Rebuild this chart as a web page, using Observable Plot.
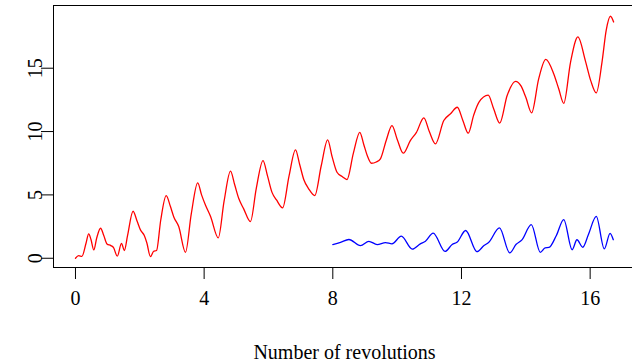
<!DOCTYPE html>
<html>
<head>
<meta charset="utf-8">
<script src="https://cdn.jsdelivr.net/npm/d3@7"></script>
<script src="https://cdn.jsdelivr.net/npm/@observablehq/plot@0.6"></script>
<style>
html, body { margin: 0; padding: 0; background: #fff; overflow: hidden; }
#chart { width: 632px; height: 364px; overflow: hidden; }
#chart svg { display: block; max-width: none !important; width: 636px !important; height: 364px !important; }
</style>
</head>
<body>
<div id="chart"></div>
<script>
const redRev = [0, 0.1, 0.2, 0.33, 0.41, 0.48, 0.57, 0.66, 0.78, 0.88, 0.98, 1.1, 1.18, 1.30, 1.43, 1.52, 1.62, 1.79, 1.92, 2.02, 2.14, 2.22, 2.33, 2.43, 2.52, 2.65, 2.82, 2.95, 3.06, 3.21, 3.42, 3.6, 3.80, 3.92, 4.04, 4.20, 4.44, 4.62, 4.82, 4.95, 5.08, 5.23, 5.44, 5.62, 5.83, 5.97, 6.11, 6.25, 6.44, 6.64, 6.84, 6.97, 7.10, 7.25, 7.44, 7.64, 7.84, 7.98, 8.13, 8.29, 8.44, 8.64, 8.84, 8.96, 9.07, 9.2, 9.35, 9.48, 9.66, 9.84, 10.0, 10.19, 10.41, 10.60, 10.83, 11.0, 11.19, 11.45, 11.66, 11.87, 12.04, 12.21, 12.38, 12.54, 12.83, 13.0, 13.19, 13.42, 13.68, 13.85, 14.0, 14.18, 14.40, 14.62, 14.87, 15.02, 15.18, 15.39, 15.62, 15.85, 16.02, 16.19, 16.37, 16.50, 16.63, 16.73];
const redVal = [0.0, 0.2, 0.15, 1.2, 1.92, 1.5, 0.66, 1.6, 2.37, 1.8, 1.13, 1.0, 0.85, 0.16, 1.18, 0.61, 1.8, 3.71, 2.9, 2.24, 1.79, 1.2, 0.13, 0.55, 0.61, 3.0, 4.95, 4.1, 3.24, 2.5, 0.47, 3.5, 5.95, 5.0, 4.2, 3.3, 1.61, 4.5, 6.87, 5.8, 4.69, 3.9, 2.9, 5.5, 7.71, 6.5, 5.2, 4.6, 3.98, 6.5, 8.56, 7.4, 6.19, 5.48, 4.95, 7.3, 9.35, 8.0, 6.79, 6.45, 6.21, 8.3, 9.94, 9.0, 8.11, 7.5, 7.6, 7.85, 9.3, 10.47, 9.4, 8.29, 9.29, 9.94, 11.08, 10.0, 9.03, 10.87, 11.4, 11.92, 10.9, 9.87, 11.3, 12.3, 12.87, 11.8, 10.67, 12.84, 13.96, 13.6, 12.7, 11.48, 14.16, 15.7, 14.55, 13.4, 12.23, 15.47, 17.47, 15.6, 14.0, 13.05, 15.5, 18.0, 19.1, 18.65];

const blueRev = [8.0, 8.24, 8.50, 8.86, 9.12, 9.38, 9.64, 9.84, 10.13, 10.47, 10.72, 10.88, 11.12, 11.49, 11.71, 11.87, 12.13, 12.48, 12.7, 12.85, 13.18, 13.5, 13.7, 13.88, 14.17, 14.45, 14.6, 14.72, 14.95, 15.18, 15.44, 15.59, 15.77, 15.95, 16.19, 16.44, 16.62, 16.72];
const blueVal = [1.08, 1.26, 1.48, 1.0, 1.34, 1.08, 1.24, 1.14, 1.74, 0.72, 1.14, 1.34, 1.98, 0.54, 1.08, 1.28, 2.19, 0.52, 1.0, 1.26, 2.40, 0.42, 1.1, 1.45, 2.66, 0.47, 0.82, 0.85, 1.8, 3.05, 0.67, 1.46, 0.87, 1.9, 3.3, 0.74, 1.97, 1.46];

const xTicks = [0, 4, 8, 12, 16];
const yTicks = [0, 5, 10, 15];
const xLabel = "Number of revolutions";

const red = redRev.map((r, i) => ({rev: r, val: redVal[i]}));
const blue = blueRev.map((r, i) => ({rev: r, val: blueVal[i]}));

const font = "'Liberation Serif', 'Times New Roman', serif";

const chart = Plot.plot({
  width: 636,
  height: 364,
  marginLeft: 53,
  marginRight: 1,
  marginTop: 5,
  marginBottom: 97,
  style: {fontFamily: font, fontSize: "20px", background: "#fff", color: "#000", maxWidth: "none"},
  x: {domain: [-0.683, 17.41], label: null},
  y: {domain: [-0.73, 19.95], label: null},
  marks: [
    Plot.frame({stroke: "#000", strokeWidth: 1}),
    Plot.axisX(xTicks, {tickSize: 12, tickPadding: 11, fontSize: 20, stroke: "#000", strokeWidth: 1, label: null}),
    Plot.axisY(yTicks, {tickSize: 12, tickFormat: () => "", stroke: "#000", strokeWidth: 1, label: null}),
    Plot.text(yTicks, {y: d => d, text: d => String(d), frameAnchor: "left", dx: -18, rotate: -90, textAnchor: "middle", lineAnchor: "middle", fontSize: 20, fill: "#000"}),
    Plot.text([xLabel], {text: d => d, frameAnchor: "bottom", dy: 85, lineAnchor: "middle", fontSize: 20, fill: "#000"}),
    Plot.line(red, {x: "rev", y: "val", stroke: "#ff0000", strokeWidth: 1.3, curve: "monotone-x"}),
    Plot.line(blue, {x: "rev", y: "val", stroke: "#0000ff", strokeWidth: 1.3, curve: "monotone-x"})
  ]
});
document.getElementById("chart").appendChild(chart);
</script>
</body>
</html>
